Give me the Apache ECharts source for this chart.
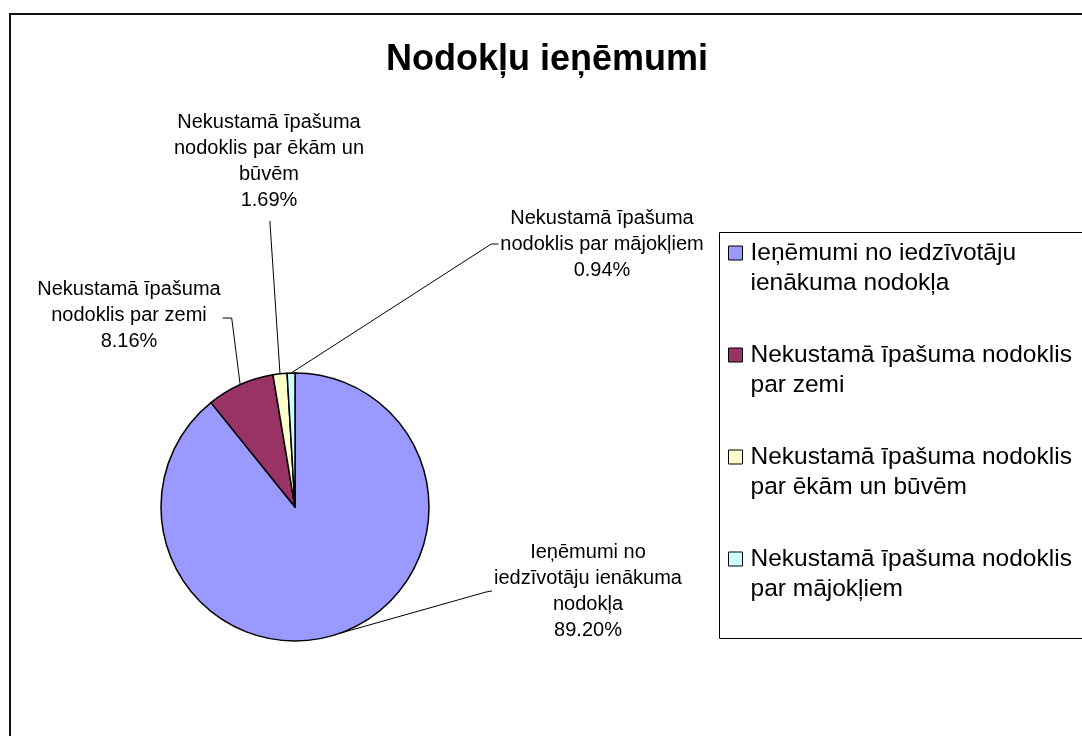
<!DOCTYPE html>
<html>
<head>
<meta charset="utf-8">
<title>Nodokļu ieņēmumi</title>
<script src="https://cdn.jsdelivr.net/npm/echarts@6/dist/echarts.min.js"></script>
<style>
  html, body { margin: 0; padding: 0; background: #fff; }
  #main { width: 1082px; height: 736px; }
</style>
</head>
<body>
<div id="main"></div>
<script>
// dati
var categories = [
    'Ieņēmumi no iedzīvotāju ienākuma nodokļa',
    'Nekustamā īpašuma nodoklis par zemi',
    'Nekustamā īpašuma nodoklis par ēkām un būvēm',
    'Nekustamā īpašuma nodoklis par mājokļiem'
];
var values = [89.20, 8.16, 1.69, 0.94];
// etiķešu teksts (ar rindu pārnesumiem kā oriģinālā)
var labelTexts = [
    'Ieņēmumi no\niedzīvotāju ienākuma\nnodokļa',
    'Nekustamā īpašuma\nnodoklis par zemi',
    'Nekustamā īpašuma\nnodoklis par ēkām un\nbūvēm',
    'Nekustamā īpašuma\nnodoklis par mājokļiem'
];
// leģendas teksts divās rindās
var legendTexts = [
    'Ieņēmumi no iedzīvotāju\nienākuma nodokļa',
    'Nekustamā īpašuma nodoklis\npar zemi',
    'Nekustamā īpašuma nodoklis\npar ēkām un būvēm',
    'Nekustamā īpašuma nodoklis\npar mājokļiem'
];
var colors = ['#9999ff', '#993366', '#ffffcc', '#ccffff'];

// etiķešu centri (izkārtojums)
var labelPos = [[588, 591], [129, 315], [269, 161], [602, 244]];

var FONT = '"Liberation Sans", Arial, sans-serif';

function renderPie() {
    var dom = document.getElementById('main');
    var myChart = echarts.init(dom, null, { renderer: 'canvas' });

    var pieData = categories.map(function (name, i) {
        return { name: name, value: values[i], itemStyle: { color: colors[i] } };
    });

    var option = {
        backgroundColor: '#fff',
        animation: false,
        title: {
            text: 'Nodokļu ieņēmumi',
            left: 547,
            top: 42,
            textAlign: 'center',
            padding: 0,
            textStyle: { fontFamily: FONT, fontSize: 36, fontWeight: 'bold', color: '#000' }
        },
        graphic: [
            { // rāmis ap visu diagrammu
                type: 'rect',
                shape: { x: 10, y: 14, width: 1100, height: 760 },
                style: { fill: 'none', stroke: '#111', lineWidth: 2 },
                z: -1
            },
            { // leģendas rāmis
                type: 'rect',
                shape: { x: 719.5, y: 232.5, width: 420, height: 406 },
                style: { fill: 'none', stroke: '#000', lineWidth: 1 },
                z: -1
            }
        ],
        legend: {
            orient: 'vertical',
            left: 728,
            top: 208,
            padding: 0,
            itemGap: 12,
            itemWidth: 14,
            itemHeight: 14,
            icon: 'rect',
            selectedMode: false,
            itemStyle: { borderColor: '#000', borderWidth: 1 },
            // tukša pirmā rinda, lai kvadrātiņš būtu pret pirmo teksta rindu
            formatter: function (name) {
                return '\n' + legendTexts[categories.indexOf(name)];
            },
            textStyle: {
                fontFamily: FONT,
                fontSize: 24.5,
                lineHeight: 30,
                color: '#000',
                padding: [0, 0, 0, 3]
            },
            data: categories
        },
        series: [{
            name: 'Nodokļu ieņēmumi',
            type: 'pie',
            center: [295, 507],
            radius: 134,
            startAngle: 90,
            clockwise: true,
            avoidLabelOverlap: false,
            itemStyle: { borderColor: '#000', borderWidth: 1.5 },
            label: {
                show: true,
                position: 'outside',
                fontFamily: FONT,
                fontSize: 20,
                lineHeight: 26,
                color: '#000',
                formatter: function (p) {
                    return labelTexts[p.dataIndex] + '\n' + p.value.toFixed(2) + '%';
                }
            },
            labelLine: {
                show: true,
                length: 15,
                length2: 15,
                lineStyle: { color: '#000', width: 1 }
            },
            labelLayout: function (params) {
                var i = params.dataIndex;
                var p = labelPos[i];
                var w = params.labelRect.width;
                var h = params.labelRect.height;
                var a = params.labelLinePoints[0];
                var bend, end;
                if (i === 0) {
                    end = [p[0] - w / 2 - 2, p[1]];
                    bend = [end[0] - 6, end[1] + 1];
                } else if (i === 1) {
                    end = [p[0] + w / 2 + 2, p[1] + 3];
                    bend = [end[0] + 9, end[1]];
                } else if (i === 2) {
                    end = [p[0] + 1, p[1] + h / 2 + 8];
                    bend = [end[0], end[1] + 2];
                } else {
                    end = [p[0] - w / 2 - 2, p[1]];
                    bend = [end[0] - 7, end[1]];
                }
                return {
                    x: p[0],
                    y: p[1],
                    align: 'center',
                    verticalAlign: 'middle',
                    labelLinePoints: [a, bend, end]
                };
            },
            emphasis: { disabled: true },
            data: pieData
        }]
    };
    myChart.setOption(option);
}

renderPie();
</script>
</body>
</html>
